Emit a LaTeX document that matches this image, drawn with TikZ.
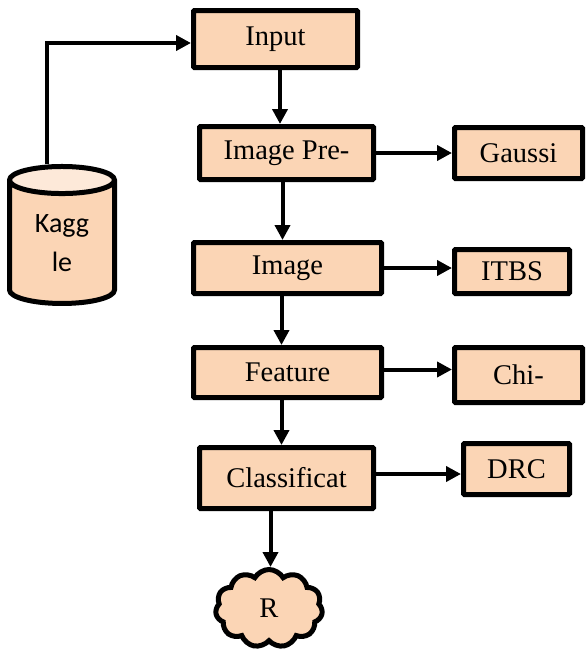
\documentclass[tikz,border=0pt]{standalone}
\usepackage{fontspec}
\setmainfont{Liberation Serif}
\newfontfamily\boxfont{Liberation Serif}
\newfontfamily\kagfont{Carlito}
\usetikzlibrary{shapes,shapes.geometric,shapes.symbols,arrows.meta,positioning}
\definecolor{peach}{HTML}{FBD5B5}
\definecolor{peachlight}{HTML}{FDE9D9}

\begin{document}
\begin{tikzpicture}[
    x=1pt, y=-1pt,
    box/.style={rectangle, draw, line width=5pt, fill=peach, rounded corners=1pt, inner sep=0pt, align=center, font=\boxfont\fontsize{28.5}{32}\selectfont},
    db/.style={cylinder, shape border rotate=90, draw, line width=5pt, aspect=0.5, cylinder uses custom fill, cylinder body fill=peach, cylinder end fill=peachlight, inner sep=0pt, align=center, font=\kagfont\fontsize{28}{39}\selectfont},
    cloudnode/.style={cloud, cloud puffs=11, cloud puff arc=120, draw, line width=5pt, fill=peach, inner sep=0pt, font=\boxfont\fontsize{28.5}{32}\selectfont},
    arrow/.style={-{Triangle[length=15pt,width=15pt]}, line width=4pt}
]
\useasboundingbox (0,0) rectangle (587,653);

% Data source
\node[db, minimum width=105pt, minimum height=137pt] (kaggle) at (62,243) {Kagg\\le};

% Main pipeline
\node[box, minimum width=164pt, minimum height=57pt] (input) at (275.5,39) {Input};
\node[box, minimum width=174pt, minimum height=53pt] (imgpre) at (286.5,153) {Image Pre-};
\node[box, minimum width=188pt, minimum height=51pt] (image) at (287.5,268) {Image};
\node[box, minimum width=188pt, minimum height=50pt] (feature) at (287.5,372.5) {Feature};
\node[box, minimum width=174pt, minimum height=61pt] (classif) at (286.5,478) {Classificat};

% Methods
\node[box, minimum width=128pt, minimum height=51pt] (gaussi) at (518.5,153) {Gaussi};
\node[box, minimum width=115pt, minimum height=44pt] (itbs) at (512,271.5) {ITBS};
\node[box, minimum width=128pt, minimum height=55pt] (chi) at (518.5,375) {Chi-};
\node[box, minimum width=106pt, minimum height=51pt] (drc) at (516.5,469) {DRC};

% Result
\node[cloudnode, minimum width=107pt, minimum height=78pt] (res) at (269,608.5) {R};

% Arrows
\draw[arrow] ([xshift=-15pt]kaggle.north) |- ([yshift=-4pt]input.west);
\draw[arrow] ([xshift=4.5pt]input.south) -- ([xshift=4.5pt]input.south |- imgpre.north);
\draw[arrow] ([xshift=-4pt]imgpre.south) -- ([xshift=-4pt]imgpre.south |- image.north);
\draw[arrow] ([xshift=-6pt]image.south) -- ([xshift=-6pt]image.south |- feature.north);
\draw[arrow] ([xshift=-6pt]feature.south) -- ([xshift=-6pt]feature.south |- classif.north);
\draw[arrow] ([xshift=-16pt]classif.south) -- ([xshift=-16pt]classif.south |- res.north);
\draw[arrow] (imgpre.east) -- (imgpre.east -| gaussi.west);
\draw[arrow] (image.east) -- (image.east -| itbs.west);
\draw[arrow] ([yshift=3pt]feature.east) -- ([yshift=3pt]feature.east -| chi.west);
\draw[arrow] ([yshift=4pt]classif.east) -- ([yshift=4pt]classif.east -| drc.west);

\end{tikzpicture}
\end{document}
